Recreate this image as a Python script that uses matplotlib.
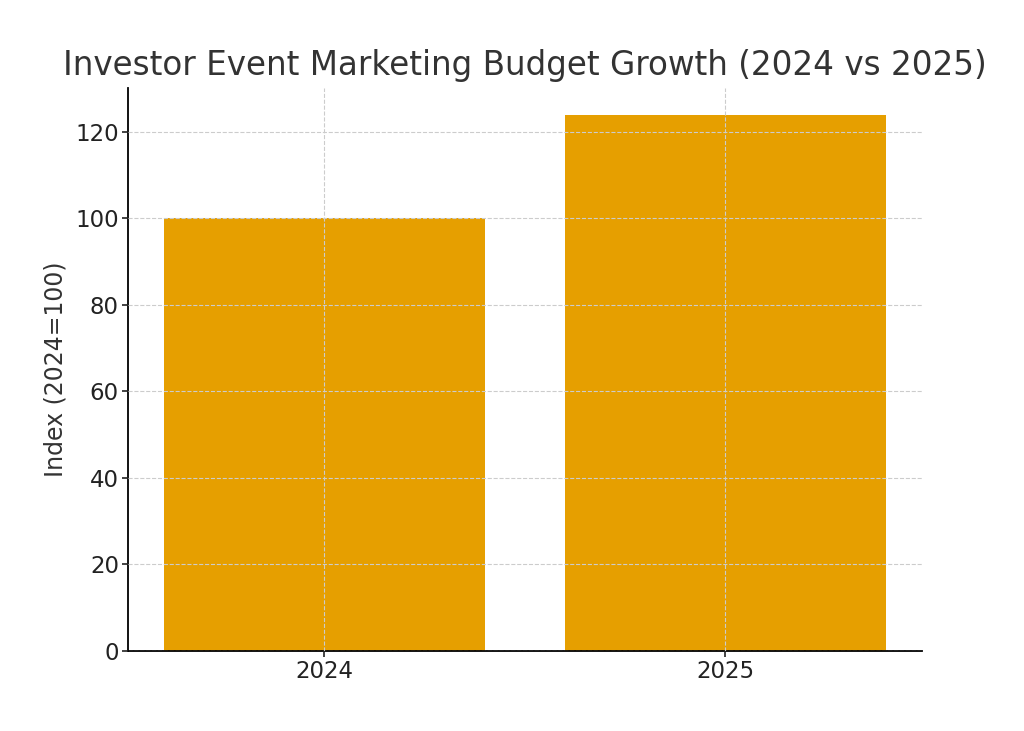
import matplotlib
matplotlib.use("Agg")
import matplotlib.pyplot as plt

years = ["2024", "2025"]
index_values = [100, 124]

fig, ax = plt.subplots(figsize=(10.24, 7.31), dpi=100)
fig.subplots_adjust(left=0.125, right=0.9, top=0.88, bottom=0.11)

ax.bar(years, index_values, color="#E69F00", width=0.8)

ax.set_title("Investor Event Marketing Budget Growth (2024 vs 2025)", fontsize=23.5, color="#333333", pad=9)
ax.set_ylabel("Index (2024=100)", fontsize=17, color="#333333", labelpad=6)
ax.tick_params(labelsize=16.5, colors="#222222", width=1.2, length=4, pad=2.5)
ax.grid(True, linestyle="--", color="#cccccc", linewidth=0.8)
ax.set_axisbelow(False)
ax.spines["top"].set_visible(False)
ax.spines["right"].set_visible(False)
ax.spines["left"].set_linewidth(1.3)
ax.spines["bottom"].set_linewidth(1.3)

plt.savefig("out.png", dpi=100)
